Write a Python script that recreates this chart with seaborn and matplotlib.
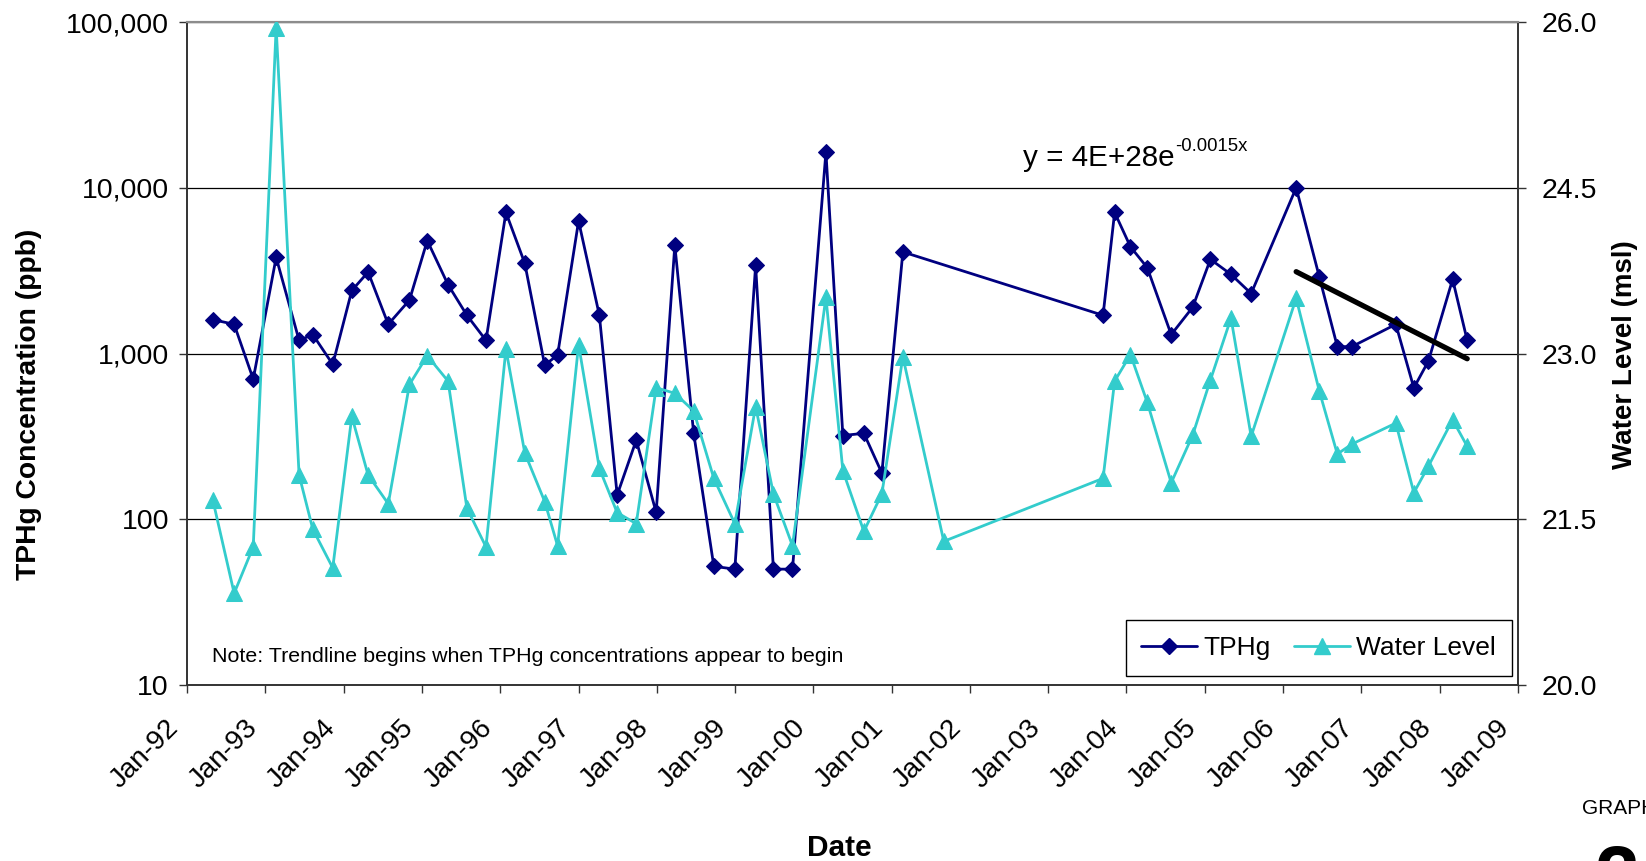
import numpy as np
import pandas as pd
import matplotlib
matplotlib.use("Agg")
import matplotlib.pyplot as plt
import matplotlib.dates as mdates
import matplotlib.ticker as mticker
from matplotlib.lines import Line2D
from matplotlib.transforms import ScaledTranslation
import seaborn as sns

# Monitoring-well sampling events
sample_dates = [
    "1992-05-01", "1992-08-08", "1992-11-05", "1993-02-20", "1993-06-07",
    "1993-08-10", "1993-11-11", "1994-02-08", "1994-04-25", "1994-07-28",
    "1994-11-04", "1995-01-26", "1995-05-03", "1995-07-30", "1995-10-27",
    "1996-01-28", "1996-04-25", "1996-07-27", "1996-09-25", "1997-01-01",
    "1997-04-08", "1997-06-30", "1997-09-27", "1997-12-29", "1998-03-26",
    "1998-06-22", "1998-09-24", "1998-12-31", "1999-04-07", "1999-06-29",
    "1999-09-26", "2000-02-29", "2000-05-18", "2000-08-24", "2000-11-16",
    "2001-02-22", "2001-09-01", "2003-09-14", "2003-11-07", "2004-01-20",
    "2004-04-07", "2004-07-28", "2004-11-05", "2005-01-27", "2005-05-03",
    "2005-08-05", "2006-03-03", "2006-06-19", "2006-09-11", "2006-11-18",
    "2007-06-11", "2007-09-03", "2007-11-10", "2008-03-02", "2008-05-09",
]

# TPHg concentration (ppb); no sample analysed in Sep-01
tphg_ppb = [
    1600, 1500, 700, 3800, 1200,
    1300, 860, 2400, 3100, 1500,
    2100, 4800, 2600, 1700, 1200,
    7100, 3500, 850, 980, 6300,
    1700, 140, 300, 110, 4500,
    330, 52, 50, 3400, 50,
    50, 16400, 320, 330, 190,
    4100, np.nan, 1700, 7100, 4400,
    3300, 1300, 1900, 3700, 3000,
    2300, 10000, 2900, 1100, 1100,
    1500, 620, 900, 2800, 1200,
]

# Groundwater elevation (ft msl)
water_level_msl = [
    21.67, 20.83, 21.25, 25.95, 21.90,
    21.41, 21.06, 22.43, 21.90, 21.64,
    22.72, 22.98, 22.75, 21.60, 21.25,
    23.04, 22.10, 21.66, 21.26, 23.08,
    21.96, 21.56, 21.46, 22.69, 22.64,
    22.48, 21.87, 21.46, 22.52, 21.73,
    21.26, 23.51, 21.94, 21.39, 21.73,
    22.97, 21.30, 21.87, 22.75, 22.99,
    22.56, 21.83, 22.26, 22.76, 23.32,
    22.25, 23.50, 22.66, 22.09, 22.18,
    22.37, 21.74, 21.98, 22.40, 22.16,
]

trend_start = "2006-03-03"
x_tick_years = list(range(1992, 2010))
tphg_ticks = [10, 100, 1000, 10000, 100000]
water_ticks = [20.0, 21.5, 23.0, 24.5, 26.0]

navy = "#000080"
turquoise = "#33CCCC"

sns.set_style("white")
plt.rcParams["font.family"] = ["Liberation Sans", "DejaVu Sans"]
plt.rcParams["text.color"] = "black"

df = pd.DataFrame({
    "date": pd.to_datetime(sample_dates),
    "tphg": tphg_ppb,
    "water": water_level_msl,
})
tphg_df = df.dropna(subset=["tphg"])

# Exponential trend fitted to the recent TPHg results
trend_df = tphg_df[tphg_df["date"] >= pd.Timestamp(trend_start)]
t_num = mdates.date2num(trend_df["date"])
slope, intercept = np.polyfit(t_num, np.log(trend_df["tphg"].to_numpy()), 1)
trend_line = pd.DataFrame({
    "date": [trend_df["date"].iloc[0], trend_df["date"].iloc[-1]],
})
trend_line["tphg"] = np.exp(intercept + slope * mdates.date2num(trend_line["date"]))

W, H = 1646, 861
fig = plt.figure(figsize=(W / 100, H / 100), dpi=100)
ax = fig.add_axes([187 / W, (H - 685) / H, (1518 - 187) / W, (685 - 22) / H])
ax2 = ax.twinx()

sns.lineplot(data=tphg_df, x="date", y="tphg", ax=ax, color=navy,
             linewidth=2.0, marker="D", markersize=7.8, markeredgecolor=navy,
             legend=False, zorder=3)
sns.lineplot(data=trend_line, x="date", y="tphg", ax=ax, color="black",
             linewidth=3.8, legend=False, zorder=4)
sns.lineplot(data=df, x="date", y="water", ax=ax2, color=turquoise,
             linewidth=2.0, marker="^", markersize=11.5, markeredgecolor=turquoise,
             legend=False, zorder=3)

# Left axis: log concentration
ax.set_yscale("log")
ax.set_ylim(10, 100000)
ax.set_yticks(tphg_ticks)
ax.yaxis.set_major_formatter(mticker.FuncFormatter(lambda v, p: f"{v:,.0f}"))
ax.yaxis.set_minor_locator(mticker.NullLocator())
ax.yaxis.grid(True, color="black", linewidth=0.9)
ax.xaxis.grid(False)
ax.set_axisbelow(True)

# Right axis: water level
ax2.set_ylim(20, 26)
ax2.set_yticks(water_ticks)
ax2.yaxis.set_major_formatter(mticker.FormatStrFormatter("%.1f"))
ax2.grid(False)

# Date axis
ax.set_xlim(pd.Timestamp("1992-01-01"), pd.Timestamp("2009-01-01"))
ax.set_xticks([pd.Timestamp(f"{y}-01-01") for y in x_tick_years])
ax.xaxis.set_major_formatter(mdates.DateFormatter("%b-%y"))

ax.set_xlabel("")
ax.set_ylabel("")
ax2.set_ylabel("")

tick_kw = dict(direction="out", length=6, width=1.0, color="#333333",
               labelcolor="black")
ax.tick_params(axis="y", which="major", left=True, pad=7, labelsize=20.5, **tick_kw)
ax.tick_params(axis="x", which="major", bottom=True, pad=22, labelsize=20, **tick_kw)
ax2.tick_params(axis="y", which="major", right=True, pad=11, labelsize=20.5, **tick_kw)

for lbl in ax.get_xticklabels():
    lbl.set_rotation(45)
    lbl.set_ha("right")
    lbl.set_va("center")
    lbl.set_rotation_mode("anchor")
    lbl.set_transform(lbl.get_transform() + ScaledTranslation(-0.12, 0, fig.dpi_scale_trans))

for a in (ax, ax2):
    for side in ("left", "right", "bottom"):
        a.spines[side].set_color("#333333")
        a.spines[side].set_linewidth(1.2)
    a.spines["top"].set_color("#8c8c8c")
    a.spines["top"].set_linewidth(1.5)

# Axis titles
fig.text(29 / W, 1 - 404 / H, "TPHg Concentration (ppb)", rotation=90,
         ha="center", va="center", fontsize=20.3, fontweight="bold")
fig.text(1625 / W, 1 - 355 / H, "Water Level (msl)", rotation=90,
         ha="center", va="center", fontsize=20, fontweight="bold")
fig.text(839 / W, 1 - 848 / H, "Date", ha="center", va="center",
         fontsize=21.5, fontweight="bold")

# Trend equation (base text plus superscript exponent) and note
eq = fig.text(1023 / W, 1 - 158 / H, "y = 4E+28e", ha="left", va="center",
              fontsize=21.3)
ax.annotate("-0.0015x", xy=(1, 1), xycoords=eq, xytext=(0.5, 4.5),
            textcoords="offset points", ha="left", va="top", fontsize=13.3,
            annotation_clip=False)
fig.text(212 / W, 1 - 656 / H,
         "Note: Trendline begins when TPHg concentrations appear to begin",
         ha="left", va="center", fontsize=15.4)

# Sheet identifier
fig.text(1582 / W, 1 - 808 / H, "GRAPH", ha="left", va="center", fontsize=15)
fig.text(1617 / W, 1 - 844 / H, "2", ha="center", va="top", fontsize=58,
         fontweight="bold")

handles = [
    Line2D([], [], color=navy, linewidth=2.0, marker="D", markersize=7.8),
    Line2D([], [], color=turquoise, linewidth=2.0, marker="^", markersize=11.5),
]
leg = ax2.legend(handles, ["TPHg", "Water Level"], loc="lower right",
                 bbox_to_anchor=(0.9955, 0.0136), borderaxespad=0, ncol=2,
                 fontsize=19, frameon=True, fancybox=False, edgecolor="black",
                 handlelength=2.1, handletextpad=0.25, columnspacing=0.9,
                 borderpad=0.6)
leg.get_frame().set_linewidth(1.0)
leg.get_frame().set_alpha(1)

fig.savefig("out.png", dpi=100)
